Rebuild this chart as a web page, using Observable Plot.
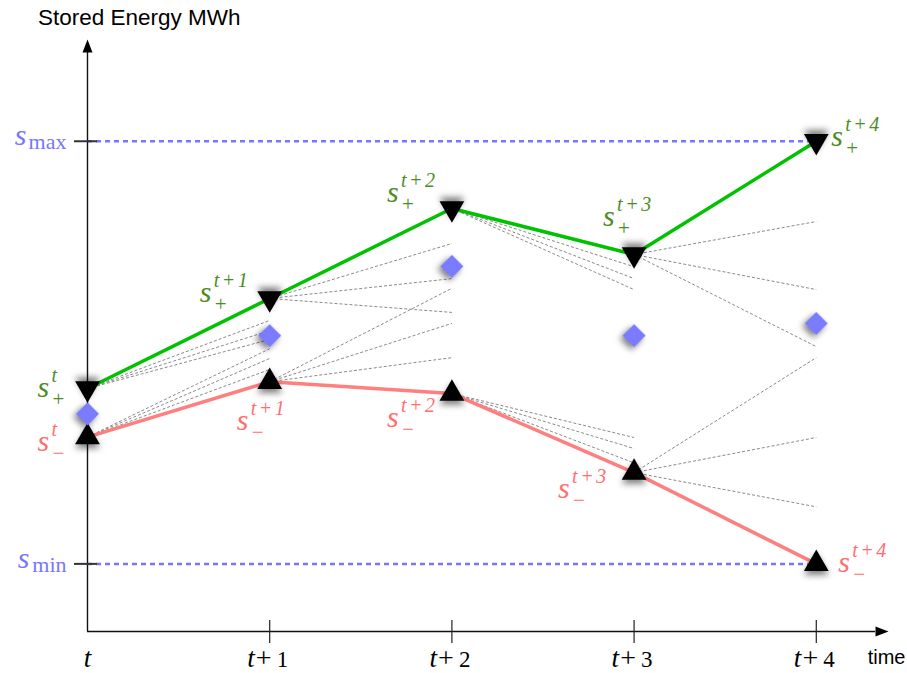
<!DOCTYPE html>
<html>
<head>
<meta charset="utf-8">
<script src="https://cdn.jsdelivr.net/npm/d3@7"></script>
<script src="https://cdn.jsdelivr.net/npm/@observablehq/plot@0.6"></script>
<style>
  body { margin: 0; background: #fff; }
  #title { height: 36px; box-sizing: border-box; padding: 7px 0 0 38px; font: 22.5px/22px "Liberation Sans", Arial, sans-serif; color: #000; white-space: nowrap; }
  g[aria-description="marker"] path { filter: drop-shadow(0px 4px 3px rgba(0,0,0,0.5)); }
  g[aria-description="sup"] text { letter-spacing: 2.5px; }
</style>
</head>
<body>
<div id="title">Stored Energy MWh</div>
<div id="chart"></div>
<script>
// ---- data ----
const tickLabels = ["t", "t+1", "t+2", "t+3", "t+4"];
const steps = [0, 1, 2, 3, 4];
const upper = [4.15, 6.28, 8.41, 7.32, 10.0];   // s+ (max reachable storage)
const lower = [3.0, 4.31, 4.03, 2.16, 0.0];     // s- (min reachable storage)
const expected = [3.55, 5.40, 7.04, 5.40, 5.69]; // blue diamonds
const sMax = 10;
const sMin = 0;
const fanFromUpper = [[5.76, 5.52, 5.31], [7.58, 6.75, 5.95], [7.03, 6.75, 6.49], [8.10, 6.49, 5.14]];
const fanFromLower = [[5.09, 4.86, 4.60], [6.52, 5.69, 4.88], [2.99, 2.73, 2.39], [4.88, 2.99, 1.35]];
const limitNames = ["max", "min"];
const limitValues = [sMax, sMin];

// ---- annotation placement (pixel offsets of labels from their points) ----
const upperLabelOffset = [[-50, 9], [-70, 4], [-65, -6], [-31, -29], [15, 5]];
const lowerLabelOffset = [[-50, 14], [-33, 48], [-65, 33], [-76, 25], [22, 8]];
const limitSymbolDx = [-61, -58];

// ---- derived tables ----
const rows = steps.map(k => ({k, upper: upper[k], lower: lower[k], expected: expected[k]}));
const fan = [];
for (let k = 0; k < steps.length - 1; k++) {
  for (const v of fanFromUpper[k]) fan.push({x1: steps[k], y1: upper[k], x2: steps[k + 1], y2: v});
  for (const v of fanFromLower[k]) fan.push({x1: steps[k], y1: lower[k], x2: steps[k + 1], y2: v});
}
const limits = limitNames.map((name, i) => ({name, value: limitValues[i]}));
const tickParts = tickLabels.map((s, k) => { const [base, off] = s.split("+"); return {k, base, off}; });

const xDomain = [0, 4.325];
const yDomain = [-1.6, 12.1];
const serif = "'Liberation Serif', 'Times New Roman', serif";
const green = "#00c200", red = "#ff7f7f", greenText = "#4d8c1e", redText = "#ff6e6e", blue = "#7676ff";

const arrowHead = {
  draw(context) {
    context.moveTo(0, -13);
    context.lineTo(5, 0);
    context.lineTo(-5, 0);
    context.closePath();
  }
};

function mathLabel(k, y, sub, color, off) {
  const d = [{x: steps[k], y}];
  const sup = tickLabels[k];
  const base = {x: "x", y: "y", fill: color, textAnchor: "start", lineAnchor: "bottom", fontFamily: serif};
  return [
    Plot.text(d, {...base, text: () => "s", fontStyle: "italic", fontSize: 30, dx: off[0], dy: off[1]}),
    Plot.text(d, {...base, text: () => sup, fontStyle: "italic", fontSize: 20, dx: off[0] + 14, dy: off[1] - 15, ariaDescription: "sup"}),
    Plot.text(d, {...base, text: () => sub, fontSize: 21, dx: off[0] + 15, dy: off[1] + 9})
  ];
}

const labelMarks = [];
steps.forEach(k => {
  labelMarks.push(...mathLabel(k, upper[k], "+", greenText, upperLabelOffset[k]));
  labelMarks.push(...mathLabel(k, lower[k], "\u2212", redText, lowerLabelOffset[k]));
});

const limitSymbolMarks = limits.map((d, i) =>
  Plot.text([d], {x: xDomain[0], y: "value", text: () => "s", fontFamily: serif, fontStyle: "italic", fontSize: 30, fill: blue, textAnchor: "end", lineAnchor: "bottom", dx: limitSymbolDx[i], dy: 4})
);

const chart = Plot.plot({
  width: 907,
  height: 637,
  marginLeft: 87,
  marginRight: 32,
  marginTop: 16,
  marginBottom: 42,
  x: {domain: xDomain},
  y: {domain: yDomain},
  style: {background: "white", overflow: "visible"},
  marks: [
    // fan of possible trajectories
    Plot.link(fan, {x1: "x1", y1: "y1", x2: "x2", y2: "y2", stroke: "#8a8a8a", strokeWidth: 1, strokeDasharray: "3,2"}),
    // storage limits
    Plot.ruleY(limits, {y: "value", x1: steps[0], x2: steps[steps.length - 1], stroke: blue, strokeWidth: 2.5, strokeDasharray: "5,4"}),
    // envelopes
    Plot.line(rows, {x: "k", y: "upper", stroke: green, strokeWidth: 3.5}),
    Plot.line(rows, {x: "k", y: "lower", stroke: red, strokeWidth: 3.5}),
    // axes
    Plot.ruleX([xDomain[0]], {stroke: "#111", strokeWidth: 1.4}),
    Plot.ruleY([yDomain[0]], {stroke: "#111", strokeWidth: 1.4}),
    Plot.dot([{x: xDomain[0], y: yDomain[1]}], {x: "x", y: "y", symbol: arrowHead, r: 5, fill: "#000", rotate: 0}),
    Plot.dot([{x: xDomain[1], y: yDomain[0]}], {x: "x", y: "y", symbol: arrowHead, r: 5, fill: "#000", rotate: 90}),
    Plot.axisX({ticks: steps.slice(1), tickSize: 23, dy: -11, tickFormat: () => "", label: null, stroke: "#222", strokeWidth: 1.2}),
    Plot.axisY({ticks: limitValues, tickSize: 23, dx: 10, tickFormat: () => "", label: null, stroke: "#333", strokeWidth: 2}),
    // x tick labels
    Plot.text(tickParts.filter(d => !d.off), {x: "k", y: yDomain[0], text: "base", fontFamily: serif, fontStyle: "italic", fontSize: 27, textAnchor: "middle", lineAnchor: "bottom", dy: 35, fill: "#000"}),
    Plot.text(tickParts.filter(d => d.off), {x: "k", y: yDomain[0], text: "base", fontFamily: serif, fontStyle: "italic", fontSize: 27, textAnchor: "end", lineAnchor: "bottom", dx: -15, dy: 35, fill: "#000"}),
    Plot.text(tickParts.filter(d => d.off), {x: "k", y: yDomain[0], text: () => "+", fontFamily: serif, fontSize: 28, textAnchor: "middle", lineAnchor: "bottom", dx: -6, dy: 35, fill: "#000"}),
    Plot.text(tickParts.filter(d => d.off), {x: "k", y: yDomain[0], text: "off", fontFamily: serif, fontSize: 23, textAnchor: "start", lineAnchor: "bottom", dx: 7, dy: 35, fill: "#000"}),
    Plot.text(["time"], {frameAnchor: "bottom-right", text: d => d, fontFamily: "'Liberation Sans', Arial, sans-serif", fontSize: 20, textAnchor: "end", lineAnchor: "bottom", dx: 30, dy: 32, fill: "#000"}),
    // y limit labels
    ...limitSymbolMarks,
    Plot.text(limits, {x: xDomain[0], y: "value", text: "name", fontFamily: serif, fontSize: 22, fill: blue, textAnchor: "end", lineAnchor: "bottom", dx: -21, dy: 8}),
    // markers
    Plot.dot(rows, {x: "k", y: "upper", symbol: "triangle", rotate: 180, r: 9.2, fill: "#000", ariaDescription: "marker"}),
    Plot.dot(rows, {x: "k", y: "lower", symbol: "triangle", rotate: 0, r: 9.2, fill: "#000", ariaDescription: "marker"}),
    Plot.dot(rows, {x: "k", y: "expected", symbol: "square", rotate: 45, r: 9.2, fill: "#7b7bff", ariaDescription: "marker"}),
    // point labels
    ...labelMarks
  ]
});
document.getElementById("chart").appendChild(chart);
</script>
</body>
</html>
